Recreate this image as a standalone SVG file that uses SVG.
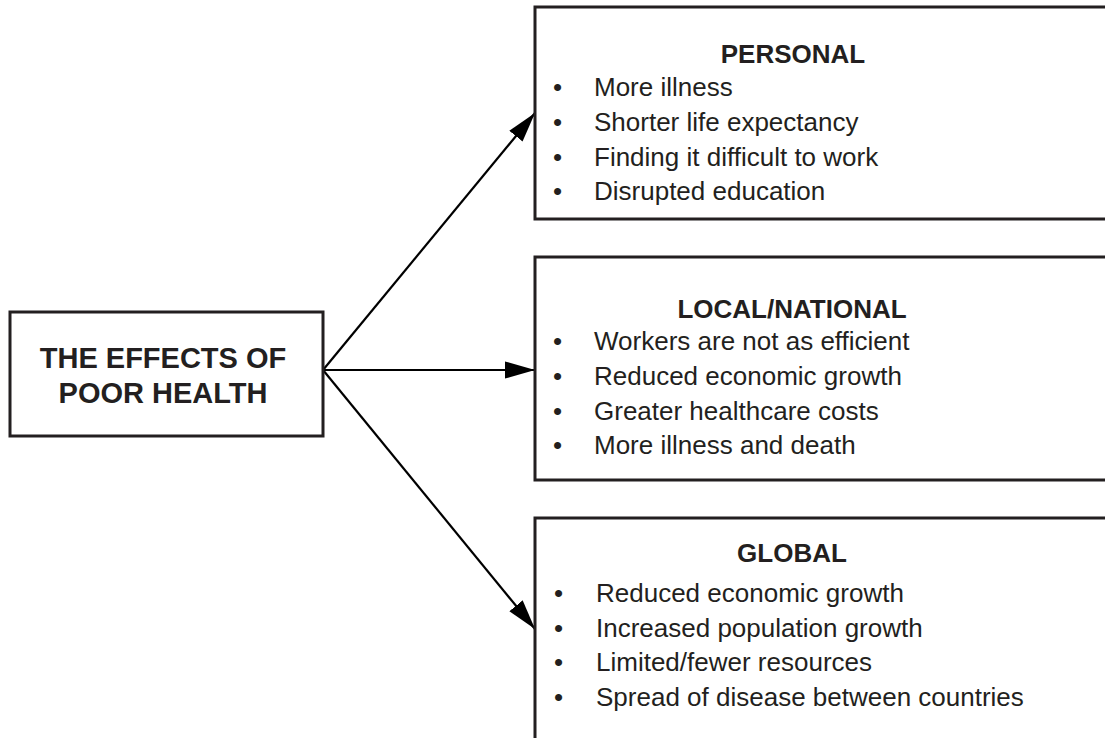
<svg xmlns="http://www.w3.org/2000/svg" width="1105" height="738" viewBox="0 0 1105 738">
<defs>
<style>
.box{fill:#fff;stroke:#231f20;stroke-width:3}
.conn{stroke:#000;stroke-width:2.2;fill:none}
.t{font-family:"Liberation Sans",Arial,sans-serif;fill:#231f20}
.title{font-size:29px;font-weight:bold;text-anchor:middle}
.head{font-size:26px;font-weight:bold;text-anchor:middle}
.item{font-size:26px}
</style>
<marker id="arr" markerUnits="userSpaceOnUse" markerWidth="30" markerHeight="18" viewBox="0 0 28 16" refX="28" refY="8" orient="auto">
<path d="M0,0 L28,8 L0,16 Z" fill="#000"/>
</marker>
</defs>
<rect width="1105" height="738" fill="#fff"/>
<g id="connectors">
<line class="conn" x1="323" y1="370" x2="535" y2="113" marker-end="url(#arr)"/>
<line class="conn" x1="323" y1="370" x2="535" y2="370" marker-end="url(#arr)"/>
<line class="conn" x1="323" y1="370" x2="535" y2="629" marker-end="url(#arr)"/>
</g>
<g id="main">
<rect class="box" x="10" y="312" width="313" height="124"/>
<text class="t title" x="163" y="368">THE EFFECTS OF</text>
<text class="t title" x="163" y="403">POOR HEALTH</text>
</g>
<g id="personal">
<rect class="box" x="535" y="7" width="580" height="212"/>
<text class="t head" x="793" y="63">PERSONAL</text>
<g class="t item">
<text x="553" y="96">•</text><text x="594" y="96">More illness</text>
<text x="553" y="131">•</text><text x="594" y="131">Shorter life expectancy</text>
<text x="553" y="166">•</text><text x="594" y="166">Finding it difficult to work</text>
<text x="553" y="200">•</text><text x="594" y="200">Disrupted education</text>
</g>
</g>
<g id="local">
<rect class="box" x="535" y="257" width="580" height="223"/>
<text class="t head" x="792" y="318">LOCAL/NATIONAL</text>
<g class="t item">
<text x="553" y="350">•</text><text x="594" y="350">Workers are not as efficient</text>
<text x="553" y="385">•</text><text x="594" y="385">Reduced economic growth</text>
<text x="553" y="420">•</text><text x="594" y="420">Greater healthcare costs</text>
<text x="553" y="454">•</text><text x="594" y="454">More illness and death</text>
</g>
</g>
<g id="global">
<rect class="box" x="535" y="518" width="580" height="240"/>
<text class="t head" x="792" y="562">GLOBAL</text>
<g class="t item">
<text x="554" y="602">•</text><text x="596" y="602">Reduced economic growth</text>
<text x="554" y="637">•</text><text x="596" y="637">Increased population growth</text>
<text x="554" y="671">•</text><text x="596" y="671">Limited/fewer resources</text>
<text x="554" y="706">•</text><text x="596" y="706">Spread of disease between countries</text>
</g>
</g>
</svg>
